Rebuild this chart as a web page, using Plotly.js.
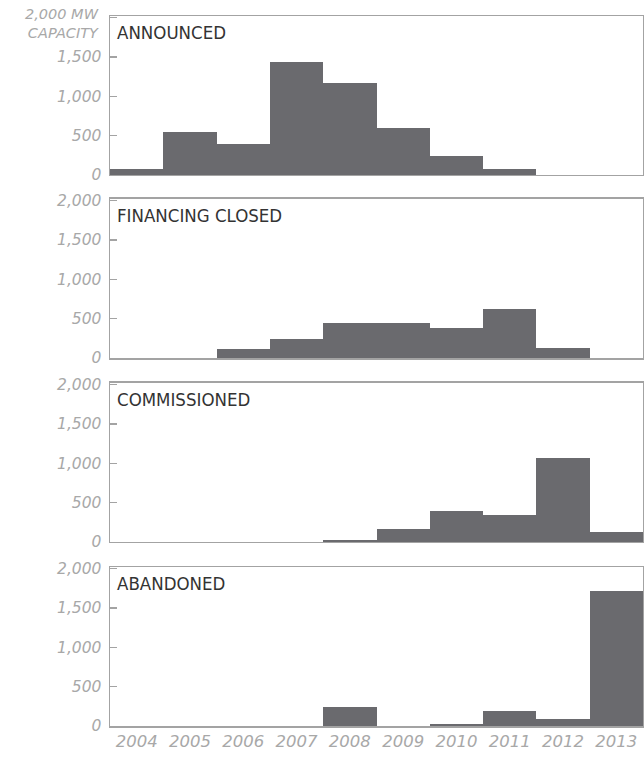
<!DOCTYPE html>
<html>
<head>
<meta charset="utf-8">
<script src="https://cdn.plot.ly/plotly-3.0.1.min.js"></script>
<style>html,body{margin:0;padding:0;background:#fff}#chart{width:644px;height:759px}</style>
</head>
<body>
<div id="chart"></div>
<script>
const years = [2004, 2005, 2006, 2007, 2008, 2009, 2010, 2011, 2012, 2013];
const yearLabels = ["2004", "2005", "2006", "2007", "2008", "2009", "2010", "2011", "2012", "2013"];
const panelTitles = ["ANNOUNCED", "FINANCING CLOSED", "COMMISSIONED", "ABANDONED"];
const announced = [80, 550, 390, 1430, 1165, 600, 240, 80, 0, 0];
const financingClosed = [0, 0, 110, 237, 445, 440, 385, 620, 130, 0];
const commissioned = [0, 0, 0, 0, 25, 163, 388, 346, 1073, 132];
const abandoned = [0, 0, 0, 0, 241, 0, 30, 191, 88, 1720];
const yTickVals = [0, 500, 1000, 1500, 2000];
const yTickText = ["0", "500", "1,000", "1,500", "2,000"];
const yTickTextTop = ["0", "500", "1,000", "1,500", ""];
const unitLabel = "2,000 MW<br>CAPACITY";

const series = [announced, financingClosed, commissioned, abandoned];
const domains = [[0.7761, 1], [0.5183, 0.7423], [0.2592, 0.4831], [0, 0.2239]];
const barColor = "#6a6a6e";
const frameColor = "#a3a3a3";
const tickFont = {family: "DejaVu Sans, sans-serif", size: 15.5, color: "#a8a8a8", style: "italic"};

const data = series.map((vals, i) => ({
  type: "bar",
  x: years,
  y: vals,
  xaxis: i === 0 ? "x" : "x" + (i + 1),
  yaxis: i === 0 ? "y" : "y" + (i + 1),
  marker: {color: barColor, line: {width: 0}},
  hoverinfo: "x+y",
  showlegend: false
}));

const layout = {
  width: 644,
  height: 759,
  margin: {l: 110, r: 1, t: 16, b: 33},
  paper_bgcolor: "#ffffff",
  plot_bgcolor: "#ffffff",
  bargap: 0,
  showlegend: false,
  annotations: []
};

for (let i = 0; i < 4; i++) {
  const s = i === 0 ? "" : String(i + 1);
  layout["xaxis" + s] = {
    anchor: "y" + s,
    domain: [0, 1],
    range: [2003.5, 2013.5],
    tickvals: years,
    ticktext: yearLabels,
    showticklabels: i === 3,
    ticks: "",
    showgrid: false,
    zeroline: false,
    showline: true,
    mirror: true,
    linecolor: frameColor,
    linewidth: 1.5,
    tickfont: {family: "DejaVu Sans, sans-serif", size: 16.5, color: "#a8a8a8", style: "italic"},
    fixedrange: true
  };
  layout["yaxis" + s] = {
    anchor: "x" + s,
    domain: domains[i],
    range: [0, 2020],
    tickvals: yTickVals,
    ticktext: i === 0 ? yTickTextTop : yTickText,
    ticks: "inside",
    ticklen: 7,
    tickwidth: 1.5,
    tickcolor: frameColor,
    ticklabelstandoff: 4,
    showgrid: false,
    zeroline: false,
    showline: true,
    mirror: true,
    linecolor: frameColor,
    linewidth: 1.5,
    tickfont: tickFont,
    fixedrange: true
  };
  layout.annotations.push({
    text: panelTitles[i],
    xref: "x" + s + " domain",
    yref: "y" + s + " domain",
    x: 0.01,
    y: 1,
    xanchor: "left",
    yanchor: "top",
    yshift: -4,
    showarrow: false,
    font: {family: "Liberation Sans Narrow, DejaVu Sans Condensed, sans-serif", size: 18.5, color: "#333333"}
  });
}

layout.annotations.push({
  text: unitLabel,
  xref: "paper",
  yref: "paper",
  x: 0,
  y: 1,
  xanchor: "right",
  yanchor: "middle",
  xshift: -9,
  yshift: -7,
  align: "right",
  showarrow: false,
  font: {family: "DejaVu Sans, sans-serif", size: 14.5, color: "#a8a8a8", style: "italic"}
});

Plotly.newPlot("chart", data, layout, {displayModeBar: false, staticPlot: true});
</script>
</body>
</html>
